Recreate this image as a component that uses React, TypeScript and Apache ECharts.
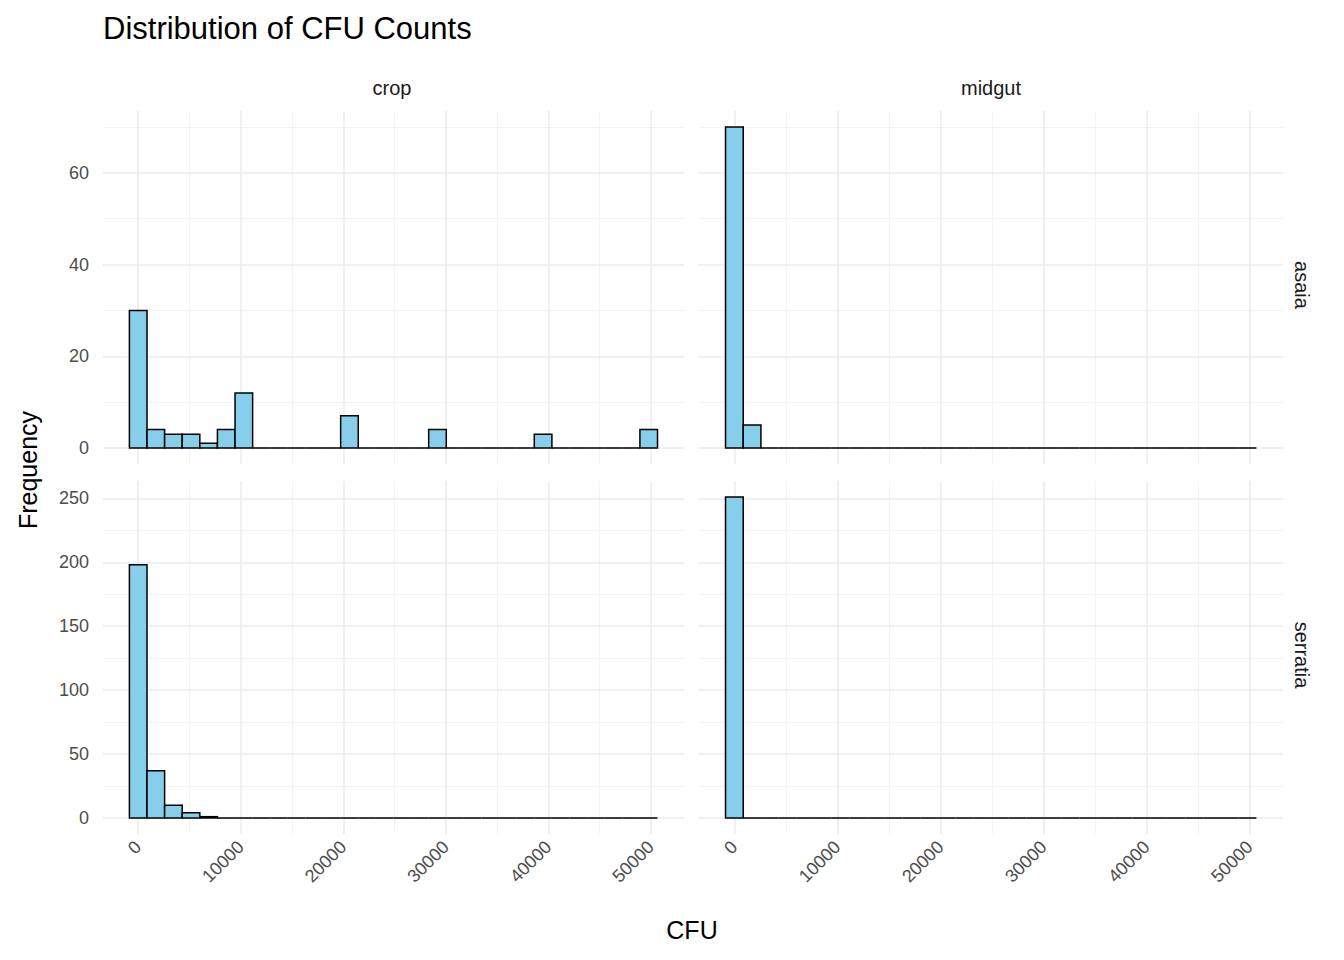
import React, { useEffect, useRef } from 'react';
import * as echarts from 'echarts';

// histogram bins: 30 bins, centers at k * binWidth
const binWidth = 1717;
const binCenters = Array.from({ length: 30 }, (_, k) => k * binWidth);

const cropAsaia = [30, 4, 3, 3, 1, 4, 12, 0, 0, 0, 0, 0, 7, 0, 0, 0, 0, 4, 0, 0, 0, 0, 0, 3, 0, 0, 0, 0, 0, 4];
const midgutAsaia = [70, 5, 0, 0, 0, 0, 0, 0, 0, 0, 0, 0, 0, 0, 0, 0, 0, 0, 0, 0, 0, 0, 0, 0, 0, 0, 0, 0, 0, 0];
const cropSerratia = [198, 37, 10, 4, 1, 0, 0, 0, 0, 0, 0, 0, 0, 0, 0, 0, 0, 0, 0, 0, 0, 0, 0, 0, 0, 0, 0, 0, 0, 0];
const midgutSerratia = [251, 0, 0, 0, 0, 0, 0, 0, 0, 0, 0, 0, 0, 0, 0, 0, 0, 0, 0, 0, 0, 0, 0, 0, 0, 0, 0, 0, 0, 0];

const xTicks = [0, 10000, 20000, 30000, 40000, 50000];
const xMinor = [5000, 15000, 25000, 35000, 45000];
const yTicksTop = [0, 20, 40, 60];
const yMinorTop = [10, 30, 50, 70];
const yTicksBottom = [0, 50, 100, 150, 200, 250];
const yMinorBottom = [25, 75, 125, 175, 225];

const FONT = 'Liberation Sans';

const App: React.FC = () => {
  const ref = useRef<HTMLDivElement>(null);

  useEffect(() => {
    document.body.style.margin = '0';
    if (!ref.current) return;
    const chart = echarts.init(ref.current, undefined, { renderer: 'svg' });

    const panels = [
      { data: cropAsaia, left: 103, top: 111, width: 581, height: 353, yMin: -3.5, yMax: 73.5, yt: yTicksTop, ym: yMinorTop, showY: true, showX: false },
      { data: midgutAsaia, left: 699, top: 111, width: 584, height: 353, yMin: -3.5, yMax: 73.5, yt: yTicksTop, ym: yMinorTop, showY: false, showX: false },
      { data: cropSerratia, left: 103, top: 481, width: 581, height: 353, yMin: -12.55, yMax: 263.55, yt: yTicksBottom, ym: yMinorBottom, showY: true, showX: true },
      { data: midgutSerratia, left: 699, top: 481, width: 584, height: 353, yMin: -12.55, yMax: 263.55, yt: yTicksBottom, ym: yMinorBottom, showY: false, showX: true },
    ];

    const grid = panels.map((p) => ({ left: p.left, top: p.top, width: p.width, height: p.height }));
    const xAxis = panels.map((p, i) => ({
      type: 'value', gridIndex: i, min: -3434, max: 53234,
      axisLine: { show: false }, axisTick: { show: false }, splitLine: { show: false },
      axisLabel: {
        show: p.showX, customValues: xTicks, rotate: 45, margin: 10,
        formatter: (v: number) => String(v),
        color: '#4d4d4d', fontSize: 18, fontFamily: FONT,
      },
    }));
    const yAxis = panels.map((p, i) => ({
      type: 'value', gridIndex: i, min: p.yMin, max: p.yMax,
      axisLine: { show: false }, axisTick: { show: false }, splitLine: { show: false },
      axisLabel: { show: p.showY, customValues: p.yt, margin: 14, color: '#4d4d4d', fontSize: 18, fontFamily: FONT },
    }));

    const series: any[] = [];
    panels.forEach((p, i) => {
      const lines = (vals: number[], key: string, color: string, w: number) =>
        vals.map((v) => ({ [key]: v, lineStyle: { color, width: w, type: 'solid' } }));
      series.push({
        type: 'line', xAxisIndex: i, yAxisIndex: i, data: [], z: 0,
        markLine: {
          silent: true, symbol: 'none', label: { show: false }, animation: false,
          data: [
            ...lines(xMinor, 'xAxis', '#F3F3F3', 1),
            ...lines(p.ym, 'yAxis', '#F3F3F3', 1),
            ...lines(xTicks, 'xAxis', '#EBEBEB', 1.5),
            ...lines(p.yt, 'yAxis', '#EBEBEB', 1.5),
          ],
        },
      });
      series.push({
        type: 'custom', xAxisIndex: i, yAxisIndex: i, z: 5, clip: false,
        data: binCenters.map((c, k) => [c, p.data[k]]),
        encode: { x: 0, y: 1 },
        renderItem: (_params: any, api: any) => {
          const x = api.value(0);
          const c = api.value(1);
          const p1 = api.coord([x - binWidth / 2, c]);
          const p2 = api.coord([x + binWidth / 2, 0]);
          return {
            type: 'rect',
            shape: { x: p1[0], y: p1[1], width: p2[0] - p1[0], height: p2[1] - p1[1] },
            style: { fill: '#87CEEB', stroke: '#000', lineWidth: 1.5 },
          };
        },
      });
    });

    const txt = (text: string, x: number, y: number, size: number, extra: any = {}) => ({
      type: 'text', x, y, ...extra,
      style: { text, fontSize: size, fontFamily: FONT, fill: extra.fill || '#1a1a1a', align: 'center', verticalAlign: 'middle' },
    });

    chart.setOption({
      animation: false,
      grid, xAxis, yAxis, series,
      graphic: [
        { type: 'text', left: 103, top: 13, style: { text: 'Distribution of CFU Counts', fontSize: 31, fontFamily: FONT, fill: '#000' } },
        txt('crop', 392, 88, 20),
        txt('midgut', 991, 88, 20),
        txt('asaia', 1302, 285, 20, { rotation: -Math.PI / 2 }),
        txt('serratia', 1302, 655, 20, { rotation: -Math.PI / 2 }),
        txt('Frequency', 28, 470, 25, { rotation: Math.PI / 2, fill: '#000' }),
        txt('CFU', 692, 930, 25, { fill: '#000' }),
      ],
    });

    return () => chart.dispose();
  }, []);

  return <div ref={ref} style={{ width: 1344, height: 960 }} />;
};

export default App;
